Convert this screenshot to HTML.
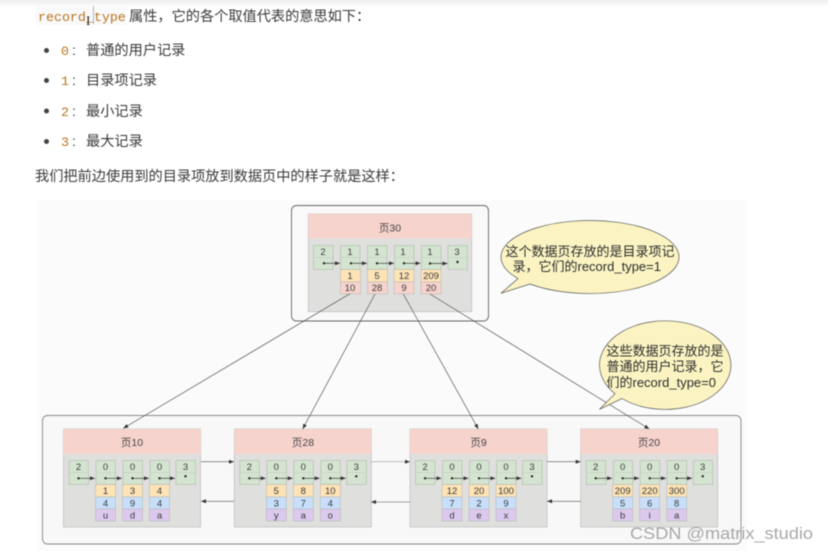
<!DOCTYPE html>
<html lang="zh"><head><meta charset="utf-8"><title>record_type</title>
<style>
html,body{margin:0;padding:0;background:#fff;width:828px;height:551px;overflow:hidden}
svg{display:block;filter:blur(.4px)}
text{font-family:"Liberation Sans","Noto Sans CJK SC",sans-serif;fill:#333}
.m{font-family:"Liberation Mono",monospace;fill:#b8741f;font-size:13.3px}
.t{font-size:14.2px;fill:#3a3a3a}
.h{font-size:10.5px;text-anchor:middle;fill:#444}
.c{font-size:9.5px;text-anchor:middle;fill:#3c3c3c}
.b{font-size:13px;fill:#2c2c2c}
</style></head><body>
<svg width="828" height="551" viewBox="0 0 828 551" xmlns="http://www.w3.org/2000/svg">
<defs>
<linearGradient id="top" x1="0" y1="0" x2="0" y2="1"><stop offset="0" stop-color="#ececec"/><stop offset="1" stop-color="#fff"/></linearGradient>
<marker id="a" markerWidth="6" markerHeight="5" refX="5" refY="2" orient="auto" markerUnits="userSpaceOnUse"><path d="M0 0L5 2L0 4z" fill="#333"/></marker>
<g id="cell"><rect x=".5" y=".5" width="19.5" height="24" fill="#d5e4d1" stroke="#b2bfaf" stroke-width=".7"/><line x1=".5" y1="12.5" x2="20" y2="12.5" stroke="#bcc9b9" stroke-width=".6"/></g>
<g id="ln" stroke="#333" stroke-width=".7" fill="none">
<path d="M15 0H31.4" marker-end="url(#a)"/><path d="M42 0H58.4" marker-end="url(#a)"/><path d="M69 0H85.4" marker-end="url(#a)"/><path d="M96 0H111.4" marker-end="url(#a)"/>
</g>
<g id="dots" fill="#222"><circle cx="15" cy="0" r="1.2"/><circle cx="42" cy="0" r="1.2"/><circle cx="69" cy="0" r="1.2"/><circle cx="96" cy="0" r="1.2"/><circle cx="122" cy="-2" r="1.2"/></g>
<g id="stack" stroke="#b9b9b6" stroke-width=".6">
<rect x="0" y="24.5" width="20" height="12.5" fill="#fde3b5"/><rect x="0" y="37" width="20" height="12" fill="#c8dffb"/><rect x="0" y="49" width="20" height="12" fill="#dcc9ee"/>
</g>
<g id="pg">
<rect x="0" y="0" width="137" height="98" fill="#dfe0de" stroke="#bcbcbc" stroke-width=".7"/>
<rect x="0" y="0" width="137" height="25" fill="#f7d3cd"/>
<use href="#cell" x="5" y="31"/><use href="#cell" x="32" y="31"/><use href="#cell" x="59" y="31"/><use href="#cell" x="86" y="31"/><use href="#cell" x="112" y="31"/>
<use href="#stack" x="32" y="31"/><use href="#stack" x="59" y="31"/><use href="#stack" x="86" y="31"/>
<use href="#ln" x="0" y="49.3"/><use href="#dots" x="0" y="49.3"/>
<text class="c" x="15" y="41">2</text><text class="c" x="42" y="41">0</text><text class="c" x="69" y="41">0</text><text class="c" x="96" y="41">0</text><text class="c" x="122" y="41">3</text>
</g>
</defs>

<rect width="828" height="551" fill="#fff"/>
<rect width="828" height="7" fill="url(#top)"/>

<!-- top text -->
<rect x="36" y="7" width="90" height="18" fill="#f9f9f9"/>
<text class="m" x="38" y="21">record_type</text>
<text class="t" x="129" y="21">属性，它的各个取值代表的意思如下：</text>
<line x1="93.5" y1="6" x2="93.5" y2="24" stroke="#999" stroke-width=".7"/>
<text x="86" y="25" style="font-size:13px;fill:#222;font-family:'Liberation Serif',serif">I</text>

<circle cx="46.5" cy="50.5" r="2.5" fill="#444"/><circle cx="46.5" cy="80.5" r="2.5" fill="#444"/><circle cx="46.5" cy="111" r="2.5" fill="#444"/><circle cx="46.5" cy="141.5" r="2.5" fill="#444"/>
<text class="m" x="61" y="55">0</text><text class="t" x="72" y="55">:</text><text class="t" x="86" y="55">普通的用户记录</text>
<text class="m" x="61" y="85">1</text><text class="t" x="72" y="85">:</text><text class="t" x="86" y="85">目录项记录</text>
<text class="m" x="61" y="116">2</text><text class="t" x="72" y="116">:</text><text class="t" x="86" y="116">最小记录</text>
<text class="m" x="61" y="146">3</text><text class="t" x="72" y="146">:</text><text class="t" x="86" y="146">最大记录</text>
<text class="t" x="35" y="181">我们把前边使用到的目录项放到数据页中的样子就是这样：</text>

<!-- diagram -->
<rect x="37" y="200" width="710" height="351" fill="#fbfbfb"/>
<rect x="291.5" y="205.5" width="197" height="115.5" rx="5" fill="#f9f9f9" stroke="#666" stroke-width=".9"/>
<rect x="42.5" y="415.5" width="698.5" height="128.5" rx="5" fill="#f8f8f8" stroke="#888" stroke-width=".9"/>

<!-- page 30 -->
<rect x="308.3" y="214" width="163.4" height="97.7" fill="#dfe0de" stroke="#bcbcbc" stroke-width=".7"/>
<rect x="308.3" y="214" width="163.4" height="24.5" fill="#f7d3cd"/>
<text class="h" x="390" y="231.5">页30</text>
<use href="#cell" x="313" y="245"/><use href="#cell" x="340" y="245"/><use href="#cell" x="367" y="245"/><use href="#cell" x="394" y="245"/><use href="#cell" x="421" y="245"/><use href="#cell" x="447.5" y="245"/>
<g stroke="#b9b9b6" stroke-width=".6">
<rect x="340.5" y="269.5" width="20" height="12.5" fill="#fde3b5"/><rect x="340.5" y="282" width="20" height="12" fill="#f7d3cd"/>
<rect x="367.5" y="269.5" width="20" height="12.5" fill="#fde3b5"/><rect x="367.5" y="282" width="20" height="12" fill="#f7d3cd"/>
<rect x="394" y="269.5" width="20" height="12.5" fill="#fde3b5"/><rect x="394" y="282" width="20" height="12" fill="#f7d3cd"/>
<rect x="421" y="269.5" width="20" height="12.5" fill="#fde3b5"/><rect x="421" y="282" width="20" height="12" fill="#f7d3cd"/>
</g>
<g stroke="#333" stroke-width=".7" fill="none">
<path d="M324 263.3H340" marker-end="url(#a)"/><path d="M351 263.3H367" marker-end="url(#a)"/><path d="M377 263.3H394" marker-end="url(#a)"/><path d="M404 263.3H420.5" marker-end="url(#a)"/><path d="M430 263.5H447.5" marker-end="url(#a)"/>
</g>
<g fill="#222"><circle cx="324" cy="263.3" r="1.2"/><circle cx="351" cy="263.3" r="1.2"/><circle cx="377" cy="263.3" r="1.2"/><circle cx="404" cy="263.3" r="1.2"/><circle cx="430" cy="263.5" r="1.2"/><circle cx="457.5" cy="262" r="1.2"/></g>
<text class="c" x="323" y="255">2</text><text class="c" x="350" y="255">1</text><text class="c" x="377" y="255">1</text><text class="c" x="403" y="255">1</text><text class="c" x="430" y="255">1</text><text class="c" x="457" y="255">3</text>
<text class="c" x="350" y="279">1</text><text class="c" x="377" y="279">5</text><text class="c" x="404" y="279">12</text><text class="c" x="431" y="279">209</text>
<text class="c" x="350" y="291">10</text><text class="c" x="377" y="291">28</text><text class="c" x="404" y="291">9</text><text class="c" x="431" y="291">20</text>

<!-- leaf pages -->
<use href="#pg" x="63.5" y="429"/>
<text class="h" x="132" y="446">页10</text>
<text class="c" x="105.5" y="494">1</text><text class="c" x="132.5" y="494">3</text><text class="c" x="159.5" y="494">4</text>
<text class="c" x="105.5" y="506.5">4</text><text class="c" x="132.5" y="506.5">9</text><text class="c" x="159.5" y="506.5">4</text>
<text class="c" x="105.5" y="518.5">u</text><text class="c" x="132.5" y="518.5">d</text><text class="c" x="159.5" y="518.5">a</text>

<use href="#pg" x="234.3" y="429"/>
<text class="h" x="303" y="446">页28</text>
<text class="c" x="276.3" y="494">5</text><text class="c" x="303.3" y="494">8</text><text class="c" x="330.3" y="494">10</text>
<text class="c" x="276.3" y="506.5">3</text><text class="c" x="303.3" y="506.5">7</text><text class="c" x="330.3" y="506.5">4</text>
<text class="c" x="276.3" y="518.5">y</text><text class="c" x="303.3" y="518.5">a</text><text class="c" x="330.3" y="518.5">o</text>

<use href="#pg" x="410" y="429"/>
<text class="h" x="478.5" y="446">页9</text>
<text class="c" x="452" y="494">12</text><text class="c" x="479" y="494">20</text><text class="c" x="506" y="494">100</text>
<text class="c" x="452" y="506.5">7</text><text class="c" x="479" y="506.5">2</text><text class="c" x="506" y="506.5">9</text>
<text class="c" x="452" y="518.5">d</text><text class="c" x="479" y="518.5">e</text><text class="c" x="506" y="518.5">x</text>

<use href="#pg" x="580.7" y="429"/>
<text class="h" x="649" y="446">页20</text>
<text class="c" x="622.7" y="494">209</text><text class="c" x="649.7" y="494">220</text><text class="c" x="676.7" y="494">300</text>
<text class="c" x="622.7" y="506.5">5</text><text class="c" x="649.7" y="506.5">6</text><text class="c" x="676.7" y="506.5">8</text>
<text class="c" x="622.7" y="518.5">b</text><text class="c" x="649.7" y="518.5">i</text><text class="c" x="676.7" y="518.5">a</text>

<!-- connectors -->
<g stroke="#555" stroke-width=".7" fill="none">
<path d="M201 461.7H234" marker-end="url(#a)"/><path d="M234 501.3H201" marker-end="url(#a)"/>
<path d="M371 461.7H410" marker-end="url(#a)" stroke="#999"/><path d="M410 502H371" marker-end="url(#a)" stroke="#888"/>
<path d="M547 461.7H580.7" marker-end="url(#a)"/><path d="M580.7 501.3H547" marker-end="url(#a)"/>
<path d="M350 293.7L123.3 428.3" marker-end="url(#a)"/>
<path d="M375 294L302.7 429" marker-end="url(#a)"/>
<path d="M403.3 294L478.3 429" marker-end="url(#a)"/>
<path d="M430 294L649.3 429" marker-end="url(#a)"/>
</g>

<!-- bubbles -->
<path d="M501 293.3L518 278.5A89 36.5 0 1 1 530 284Z" fill="#fbf4c2" stroke="#555" stroke-width=".7"/>
<text class="b" x="505.5" y="256">这个数据页存放的是目录项记</text>
<text class="b" x="512.5" y="271">录，它们的record_type=1</text>

<path d="M599.5 409.3L615 393.7A65.7 44.3 0 1 1 622 398.5Z" fill="#fbf4c2" stroke="#555" stroke-width=".7"/>
<text class="b" x="606.5" y="355.5">这些数据页存放的是</text>
<text class="b" x="606.5" y="371">普通的用户记录，它</text>
<text class="b" x="606.5" y="387">们的record_type=0</text>

<!-- watermark -->
<text x="630" y="539" textLength="183" lengthAdjust="spacingAndGlyphs" style="font-size:17px;fill:#9a9a9a;fill-opacity:.85">CSDN @matrix_studio</text>
</svg>
</body></html>
